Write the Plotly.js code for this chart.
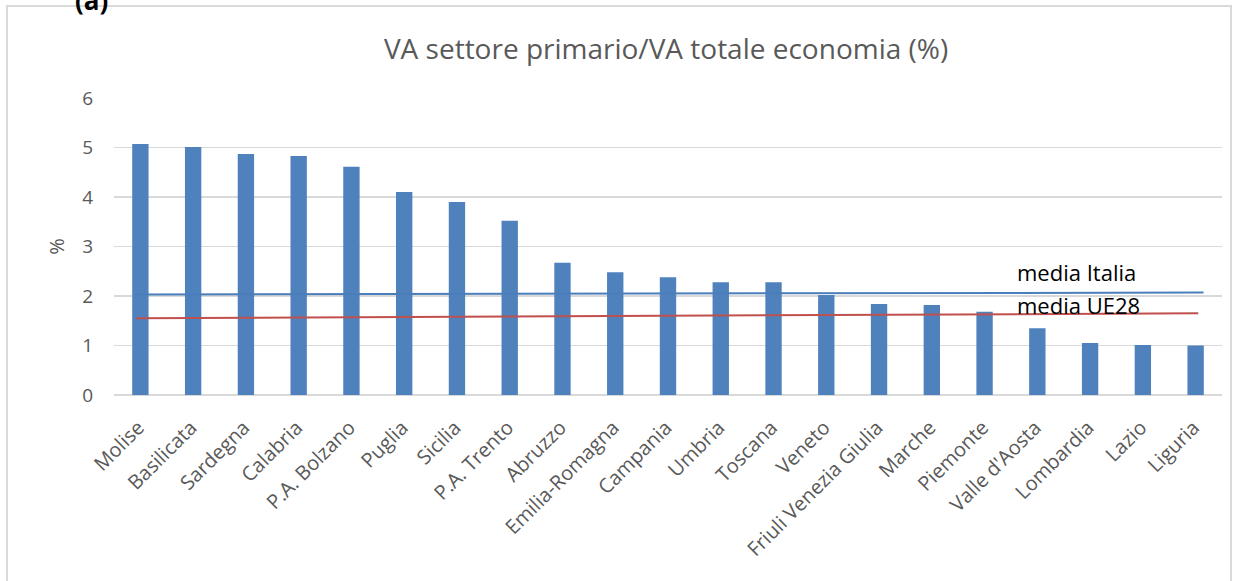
<!DOCTYPE html>
<html>
<head>
<meta charset="utf-8">
<script src="https://cdn.plot.ly/plotly-3.0.1.min.js"></script>
<style>
html,body{margin:0;padding:0;overflow:hidden;background:#fff;}
#frame{position:absolute;left:6px;top:5px;width:1226px;height:600px;border:2px solid #d9d9d9;box-sizing:border-box;}
#chart{position:absolute;left:0;top:0;width:1245px;height:581px;}
</style>
</head>
<body>
<div id="frame"></div>
<div id="chart"></div>
<script>
const regions = ["Molise","Basilicata","Sardegna","Calabria","P.A. Bolzano","Puglia","Sicilia","P.A. Trento","Abruzzo","Emilia-Romagna","Campania","Umbria","Toscana","Veneto","Friuli Venezia Giulia","Marche","Piemonte","Valle d'Aosta","Lombardia","Lazio","Liguria"];
const vaShare = [5.07,5.01,4.87,4.83,4.61,4.10,3.90,3.52,2.67,2.48,2.38,2.28,2.28,2.02,1.84,1.82,1.68,1.35,1.05,1.01,1.00];
const mediaItaliaX = [-0.08, 20.15];
const mediaItaliaY = [2.03, 2.07];
const mediaUE28X = [-0.08, 20.05];
const mediaUE28Y = [1.55, 1.65];
const yTicks = [0,1,2,3,4,5,6];
const labelItalia = "media Italia";
const labelUE28 = "media UE28";
const chartTitle = "VA settore primario/VA totale economia (%)";
const panelLabel = "(a)";

const idx = regions.map((_, i) => i);
const font = "'Open Sans', 'Liberation Sans', sans-serif";

const traces = [
  {type:'bar', x: idx, y: vaShare, width: 0.31, marker:{color:'#4f81bd'}, hoverinfo:'x+y', showlegend:false},
  {type:'scatter', mode:'lines', x: mediaItaliaX, y: mediaItaliaY, line:{color:'#4a7ebb', width:2}, showlegend:false},
  {type:'scatter', mode:'lines', x: mediaUE28X, y: mediaUE28Y, line:{color:'#c0504d', width:2}, showlegend:false}
];

const layout = {
  width:1245, height:581,
  margin:{l:114, r:23, t:98, b:186},
  paper_bgcolor:'rgba(0,0,0,0)', plot_bgcolor:'rgba(0,0,0,0)',
  font:{family:font, color:'#595959', size:17},
  title:{text: chartTitle, x:0.535, xanchor:'center', y:0.915, yanchor:'middle', font:{family:font, size:28, color:'#595959'}},
  xaxis:{
    range:[-0.5, regions.length - 0.5], tickmode:'array', tickvals: idx, ticktext: regions,
    tickangle:-45, showgrid:false, zeroline:false, showline:false, ticks:'',
    ticklabelstandoff:16, ticklabelshift:-2,
    tickfont:{family:font, size:20, color:'#595959'}, fixedrange:true
  },
  yaxis:{
    range:[0,6], tickmode:'array', tickvals: yTicks, showgrid:true, gridcolor:'#d9d9d9', gridwidth:1.5,
    zeroline:true, zerolinecolor:'#d9d9d9', zerolinewidth:1.5, showline:false, ticks:'',
    ticklabelstandoff:20, tickfont:{family:font, size:19, color:'#595959'},
    title:{text:'%', font:{family:font, size:20, color:'#595959'}, standoff:12}, fixedrange:true
  },
  annotations:[
    {text: labelItalia, xref:'x', yref:'y', x: 16.58, y: 2.48, xanchor:'left', yanchor:'middle', showarrow:false, font:{family:font, size:22, color:'#000'}},
    {text: labelUE28, xref:'x', yref:'y', x: 16.58, y: 1.82, xanchor:'left', yanchor:'middle', showarrow:false, font:{family:font, size:22, color:'#000'}},
    {text: '<b>' + panelLabel + '</b>', xref:'paper', yref:'paper', x:-0.02, y: 1.33, xanchor:'center', yanchor:'middle', showarrow:false, font:{family:font, size:26, color:'#000'}}
  ]
};

Plotly.newPlot('chart', traces, layout, {displayModeBar:false, staticPlot:true});
</script>
</body>
</html>
